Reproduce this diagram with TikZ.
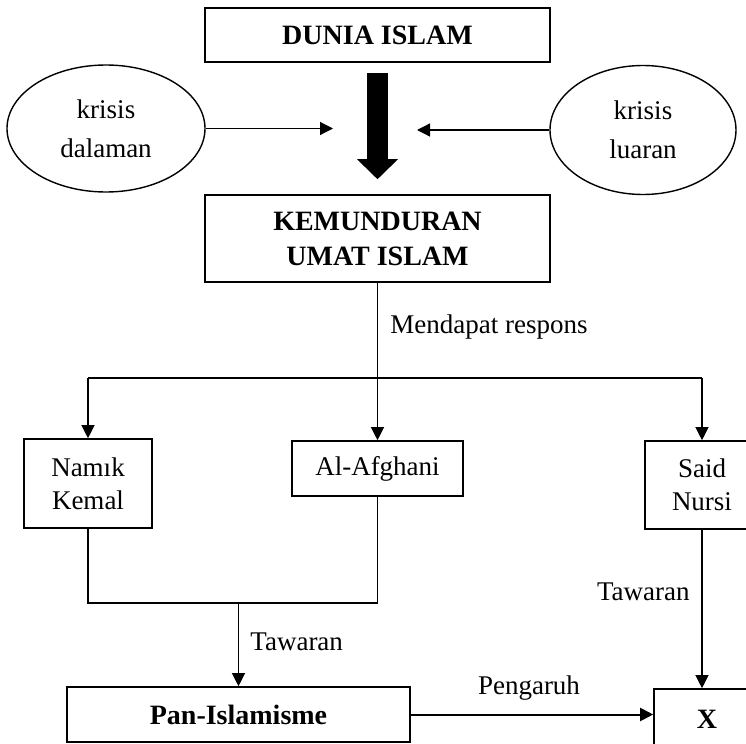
\documentclass[tikz,border=0pt]{standalone}
\usepackage{fontspec}
\setmainfont{Liberation Serif}
\usetikzlibrary{arrows.meta,positioning,shapes.geometric}

\begin{document}
\begin{tikzpicture}[
    x=0.5pt, y=-0.5pt,
    box/.style={draw, line width=0.8pt, align=center, inner sep=0pt, font=\fontsize{13.5}{16.5}\selectfont},
    headbox/.style={box, font=\fontsize{14}{17.5}\selectfont\bfseries},
    oval/.style={draw, ellipse, line width=0.7pt, align=center, inner sep=0pt, font=\fontsize{13.5}{19.5}\selectfont},
    lbl/.style={inner sep=0pt, font=\fontsize{13.5}{16.5}\selectfont},
    line/.style={line width=0.6pt},
    arrow/.style={-{Triangle[length=6.5pt, width=6.5pt]}, line width=0.6pt},
    bigarrow/.style={-{Triangle[length=10pt, width=20.5pt, line width=0pt]}, line width=10.5pt}
]
\useasboundingbox (0,0) rectangle (746,744);
\clip (0,0) rectangle (746,744);
\node[headbox, minimum width=172.5pt, minimum height=27pt] (dunia) at (377.5,35) {DUNIA ISLAM};
\node[headbox, minimum width=172.5pt, minimum height=43.5pt] (kemunduran) at (377.5,238.5) {KEMUNDURAN\\UMAT ISLAM};
\node[oval, minimum width=99pt, minimum height=63.5pt] (dalaman) at (106,128.5) {krisis\\dalaman};
\node[oval, minimum width=93pt, minimum height=64.5pt] (luaran) at (643,130) {krisis\\luaran};
\coordinate (inL) at (333,128.5);
\coordinate (inR) at (417,130);
\draw[bigarrow, shorten <=5pt, shorten >=7.5pt] (dunia) -- (kemunduran);
\draw[arrow] (dalaman) -- (inL);
\draw[arrow] (luaran) -- (inR);

\node[box, minimum width=64pt, minimum height=44.5pt] (namik) at (88,483.5) {Namık\\Kemal};
\node[box, minimum width=85.5pt, minimum height=27.5pt] (afghani) at (377.5,468.5) {Al-Afghani};
\node[box, minimum width=57pt, minimum height=44pt] (said) at (702,485) {Said\\Nursi};
\coordinate (split) at (377.5,378);
\coordinate (splitL) at (88,378);
\coordinate (splitR) at (702,378);
\draw[line] (kemunduran) -- (split);
\node[lbl, anchor=west] (respons) at (390,327) {Mendapat respons};
\draw[line] (splitL) -- (splitR);
\draw[arrow] (splitL) -- (namik);
\draw[arrow] (split) -- (afghani);
\draw[arrow] (splitR) -- (said);

\node[box, font=\fontsize{14}{17.5}\selectfont\bfseries, minimum width=171.5pt, minimum height=27.5pt] (pan) at (238.5,714.5) {Pan-Islamisme};
\node[box, font=\fontsize{14}{17.5}\selectfont\bfseries, minimum width=53pt, minimum height=30pt] (x) at (707,719) {X};
\coordinate (joinL) at (88,603);
\coordinate (joinR) at (377.5,603);
\coordinate (joinM) at (238.5,603);
\draw[line] (namik) -- (joinL) -- (joinR) -- (afghani);
\draw[arrow] (joinM) -- (pan);
\node[lbl, anchor=west] (tawaranL) at (250,642) {Tawaran};
\draw[arrow] (said) -- (said |- x.north);
\node[lbl, anchor=east] (tawaranR) at (690,592) {Tawaran};
\draw[arrow, line width=1pt] (pan) -- (pan -| x.west);
\node[lbl] (pengaruh) at (529,688) {Pengaruh};
\end{tikzpicture}
\end{document}
